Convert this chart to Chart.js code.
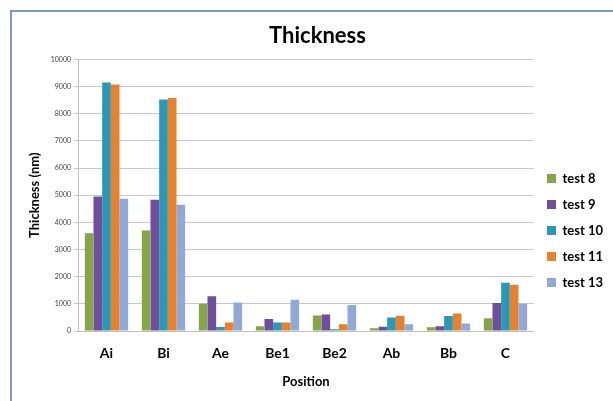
<!DOCTYPE html>
<html>
<head>
<meta charset="utf-8">
<script src="https://cdn.jsdelivr.net/npm/chart.js@4"></script>
<style>
  html, body { margin: 0; padding: 0; background: #fff; overflow: hidden; }
  canvas { display: block; }
</style>
</head>
<body>
<canvas id="grafico" width="613" height="401"></canvas>
<script>
// datos
const posiciones = ["Ai", "Bi", "Ae", "Be1", "Be2", "Ab", "Bb", "C"];
const test8  = [3600, 3700, 1000, 175, 575, 100, 140, 470];
const test9  = [4950, 4830, 1280, 440, 610, 160, 175, 1030];
const test10 = [9150, 8520, 150, 310, 60, 500, 550, 1780];
const test11 = [9080, 8580, 310, 310, 250, 560, 640, 1700];
const test13 = [4870, 4650, 1050, 1150, 960, 250, 275, 1000];
const yTicks = [0, 1000, 2000, 3000, 4000, 5000, 6000, 7000, 8000, 9000, 10000];

const fuente = "Lato, 'Open Sans', sans-serif";

// marco azul alrededor del gráfico
const marco = {
    id: "marco",
    beforeDraw(chart) {
        const ctx = chart.ctx;
        ctx.save();
        ctx.fillStyle = "#fff";
        ctx.fillRect(0, 0, chart.width, chart.height);
        ctx.strokeStyle = "#7f98bd";
        ctx.lineWidth = 2;
        ctx.strokeRect(11, 11, chart.width + 20, chart.height + 20);
        ctx.restore();
    }
};

const ctx = document.getElementById("grafico").getContext("2d");
new Chart(ctx, {
    type: "bar",
    data: {
        labels: posiciones,
        datasets: [
            { label: "test 8", data: test8, backgroundColor: "#86a44a" },
            { label: "test 9", data: test9, backgroundColor: "#6f4f9b" },
            { label: "test 10", data: test10, backgroundColor: "#2e98b4" },
            { label: "test 11", data: test11, backgroundColor: "#e5822f" },
            { label: "test 13", data: test13, backgroundColor: "#93a9d5" }
        ]
    },
    options: {
        responsive: false,
        animation: false,
        devicePixelRatio: 1,
        layout: { padding: { top: 14, left: 22, right: 0, bottom: 10 } },
        datasets: { bar: { categoryPercentage: 0.76, barPercentage: 1.0 } },
        plugins: {
            title: {
                display: true,
                text: "Thickness",
                color: "#000",
                font: { family: fuente, size: 22, weight: "bold" },
                padding: { top: 9, bottom: 10 }
            },
            legend: {
                position: "right",
                title: { display: true, text: "", font: { size: 10 }, padding: { top: 22, bottom: 22 } },
                labels: {
                    boxWidth: 9,
                    boxHeight: 9,
                    padding: 13,
                    color: "#000",
                    font: { family: fuente, size: 13, weight: "bold" }
                }
            },
            tooltip: { enabled: false }
        },
        scales: {
            x: {
                afterFit: s => { s.height = 60; },
                grid: { display: false, drawTicks: false },
                border: { color: "#bfbfbf" },
                ticks: { color: "#000", padding: 14, font: { family: fuente, size: 14, weight: "bold" } },
                title: { display: true, text: "Position", color: "#000", padding: { top: 6, bottom: 1 },
                         font: { family: fuente, size: 13, weight: "bold" } }
            },
            y: {
                min: 0,
                max: 10000,
                afterBuildTicks: s => { s.ticks = yTicks.map(v => ({ value: v })); },
                afterFit: s => { s.width = 56; },
                grid: { color: "#c8c8c8", tickLength: 4 },
                border: { color: "#bfbfbf" },
                ticks: { color: "#404040", padding: 3, font: { family: fuente, size: 7 },
                         callback: v => String(v) },
                title: { display: true, text: "Thickness (nm)", color: "#000", padding: { top: 5, bottom: 0 },
                         font: { family: fuente, size: 13, weight: "bold" } }
            }
        }
    },
    plugins: [marco]
});
</script>
</body>
</html>
